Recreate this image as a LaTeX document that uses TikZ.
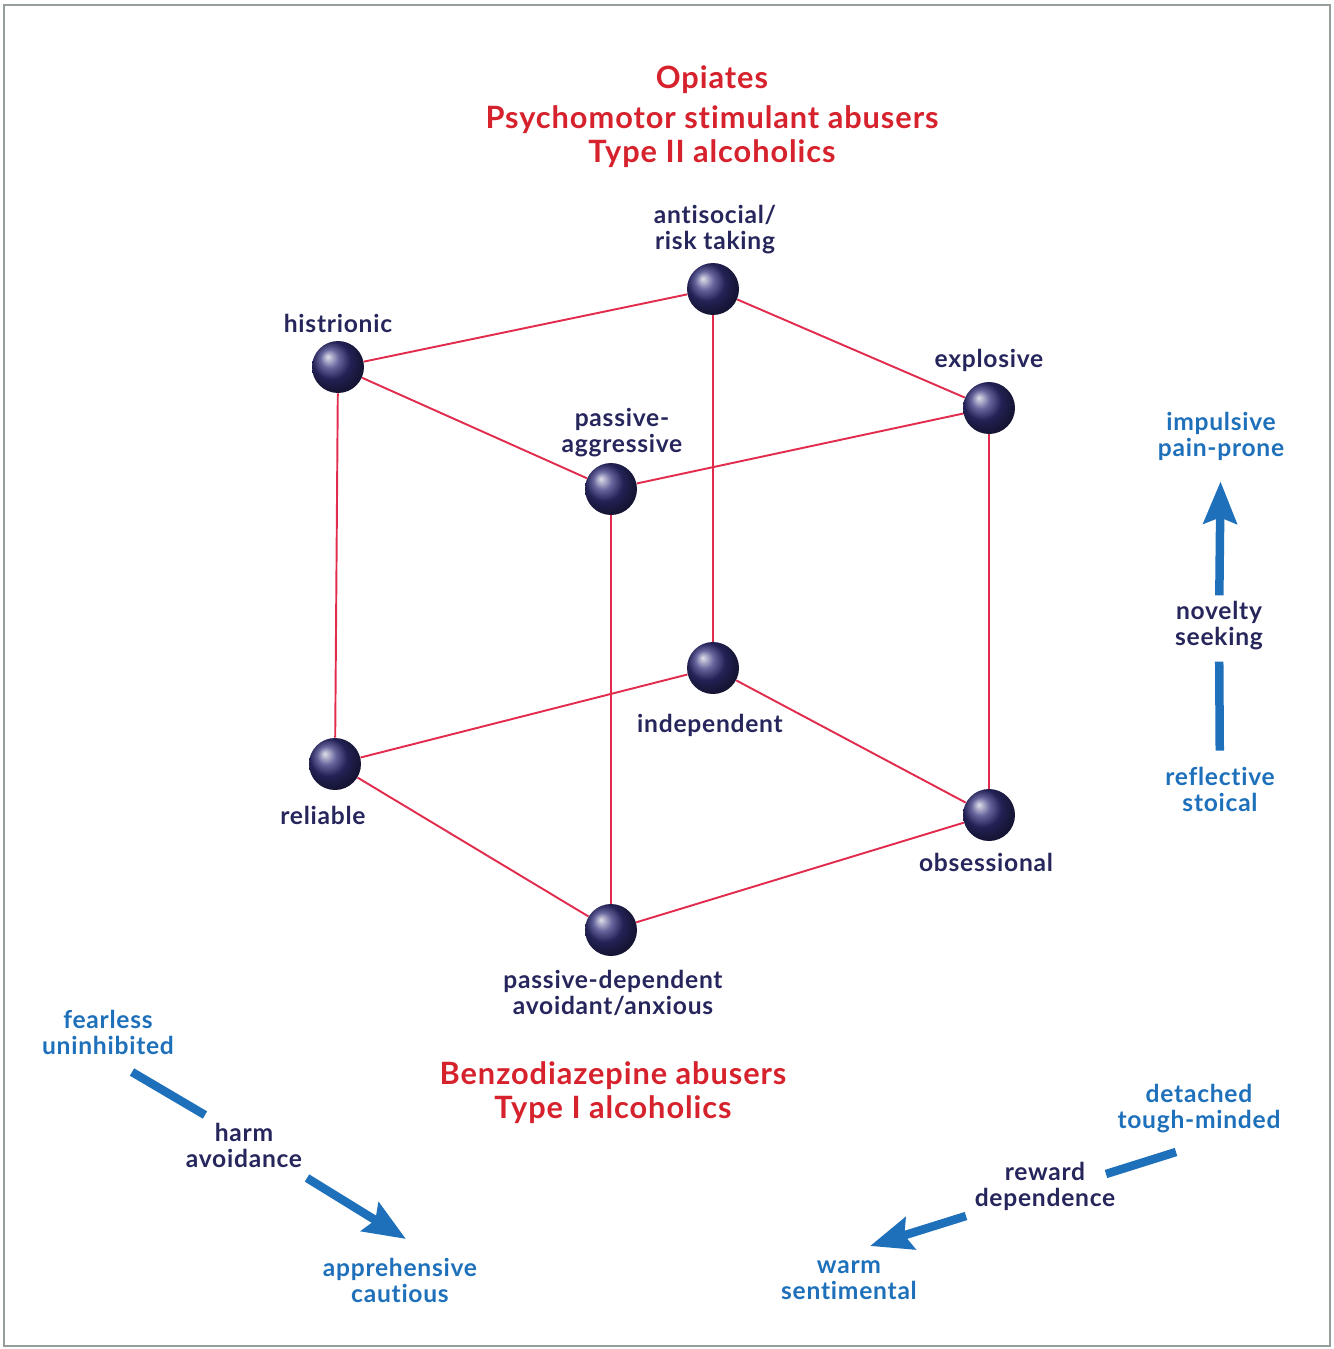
\documentclass[tikz,border=0pt]{standalone}
\usepackage{fontspec}
\setmainfont{Lato}[LetterSpace=3, Ligatures=NoCommon]
\usepackage{tikz}
\usetikzlibrary{arrows.meta}

\definecolor{titlered}{RGB}{214, 34, 44}
\definecolor{labelnavy}{RGB}{38, 38, 92}
\definecolor{axisblue}{RGB}{30, 112, 186}
\definecolor{edgered}{RGB}{226, 44, 78}
\definecolor{spherenavy}{RGB}{50, 48, 122}
\definecolor{framegray}{RGB}{150, 158, 154}

\tikzset{
  ballnode/.style = {
    circle,
    inner sep    = 0pt,
    minimum size = 1.04cm,
    shading      = ball,
    ball color   = spherenavy
  },
  cubeedge/.style = {
    draw       = edgered,
    line width = 1.1pt
  },
  trait/.style = {
    text  = labelnavy,
    align = center,
    font  = \fontsize{14}{14.8}\selectfont\bfseries
  },
  pole/.style = {
    text  = axisblue,
    align = center,
    font  = \fontsize{14}{14.8}\selectfont\bfseries
  },
  drugclass/.style = {
    text  = titlered,
    align = center,
    font  = \fontsize{17.5}{19.3}\selectfont\bfseries
  },
  axisline/.style = {
    draw       = axisblue,
    line width = 0.17cm
  },
  axisarrow/.style = {
    axisline,
    -{Stealth[length=0.84cm, width=0.66cm, inset=0.12cm]}
  }
}

\begin{document}
\begin{tikzpicture}[x=0.02cm, y=-0.02cm]
  \useasboundingbox (0,0) rectangle (1334,1349);
  \draw[framegray, line width=1.6pt] (4,5) rectangle (1330,1346);

  \node[drugclass] (upper) at (712,117) {Opiates\\[3.4pt]
    Psychomotor stimulant abusers\\Type II alcoholics};
  \node[drugclass] (lower) at (613,1093) {Benzodiazepine abusers\\Type I alcoholics};

  \node[ballnode] (antisocial)  at (713,289) {};
  \node[ballnode] (histrionic)  at (338,367) {};
  \node[ballnode] (explosive)   at (989,408) {};
  \node[ballnode] (passagg)     at (611,489) {};
  \node[ballnode] (independent) at (713,668) {};
  \node[ballnode] (reliable)    at (335,764) {};
  \node[ballnode] (obsessional) at (989,815) {};
  \node[ballnode] (passdep)     at (611,930) {};

  \draw[cubeedge] (histrionic) -- (antisocial) -- (explosive) -- (passagg) -- (histrionic);
  \draw[cubeedge] (reliable) -- (independent) -- (obsessional) -- (passdep) -- (reliable);
  \draw[cubeedge] (histrionic) -- (reliable);
  \draw[cubeedge] (antisocial) -- (independent);
  \draw[cubeedge] (explosive) -- (obsessional);
  \draw[cubeedge] (passagg) -- (passdep);

  \node[trait] (lblanti) at (715,230) {antisocial/\\risk taking};
  \node[trait] (lblhist) at (338,323) {histrionic};
  \node[trait] (lblexpl) at (989,360) {explosive};
  \node[trait] (lblpagg) at (622,433) {passive-\\aggressive};
  \node[trait] (lblinde) at (710,725) {independent};
  \node[trait] (lblreli) at (323,815) {reliable};
  \node[trait] (lblobse) at (986,862) {obsessional};
  \node[trait] (lblpdep) at (613,993) {passive-dependent\\avoidant/anxious};

  \node[pole]  (impulsive)  at (1221,436) {impulsive\\pain-prone};
  \node[trait] (novelty)    at (1219,626) {novelty\\seeking};
  \node[pole]  (reflective) at (1220,789) {reflective\\stoical};
  \draw[axisarrow, shorten >=0.3cm] (novelty) -- (impulsive);
  \draw[axisline, shorten <=0.2cm, shorten >=0.1cm] (reflective) -- (novelty);

  \node[pole]  (fearless)     at (108,1032) {fearless\\uninhibited};
  \node[trait] (harm)         at (244,1145) {harm\\avoidance};
  \node[pole]  (apprehensive) at (400,1280) {apprehensive\\cautious};
  \coordinate (harmA) at (132,1072);
  \coordinate (harmB) at (205,1115);
  \coordinate (harmC) at (307,1178);
  \coordinate (harmD) at (406,1239);
  \draw[axisline]  (harmA) -- (harmB);
  \draw[axisarrow] (harmC) -- (harmD);

  \node[pole]  (detached) at (1199,1109) {detached\\tough-minded};
  \node[trait] (reward)   at (1045,1186) {reward\\dependence};
  \node[pole]  (warm)     at (849,1280)  {warm\\sentimental};
  \coordinate (rewA) at (1176,1152);
  \coordinate (rewB) at (1106,1174);
  \coordinate (rewC) at (966,1216);
  \coordinate (rewD) at (870,1246);
  \draw[axisline]  (rewA) -- (rewB);
  \draw[axisarrow] (rewC) -- (rewD);
\end{tikzpicture}
\end{document}
